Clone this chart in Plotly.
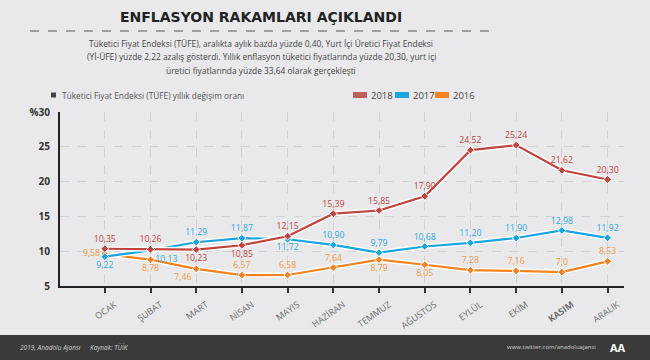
import plotly.graph_objects as go

months = ["OCAK", "ŞUBAT", "MART", "NİSAN", "MAYIS", "HAZİRAN", "TEMMUZ", "AĞUSTOS", "EYLÜL", "EKİM", "KASIM", "ARALIK"]
tick_labels = ["OCAK", "ŞUBAT", "MART", "NİSAN", "MAYIS", "HAZİRAN", "TEMMUZ", "AĞUSTOS", "EYLÜL", "EKİM", "<b>KASIM</b>", "ARALIK"]
v2018 = [10.35, 10.26, 10.23, 10.85, 12.15, 15.39, 15.85, 17.90, 24.52, 25.24, 21.62, 20.30]
v2017 = [9.22, 10.13, 11.29, 11.87, 11.72, 10.90, 9.79, 10.68, 11.20, 11.90, 12.98, 11.92]
v2016 = [9.58, 8.78, 7.46, 6.57, 6.58, 7.64, 8.79, 8.05, 7.28, 7.16, 7.0, 8.53]
t2018 = ["10,35", "10,26", "10,23", "10,85", "12,15", "15,39", "15,85", "17,90", "24,52", "25,24", "21,62", "20,30"]
t2017 = ["9,22", "10,13", "11,29", "11,87", "11,72", "10,90", "9,79", "10,68", "11,20", "11,90", "12,98", "11,92"]
t2016 = ["9,58", "8,78", "7,46", "6,57", "6,58", "7,64", "8,79", "8,05", "7,28", "7,16", "7,0", "8,53"]
y_ticks = [5, 10, 15, 20, 25, 30]
y_tick_text = ["<b>5</b>", "<b>10</b>", "<b>15</b>", "<b>20</b>", "<b>25</b>", "<b>%30</b>"]

pos2018 = ["top center"] * 12
pos2018[2] = "bottom center"; pos2018[3] = "bottom center"
pos2017 = ["top center"] * 12
pos2017[0] = "bottom center"; pos2017[1] = "bottom right"; pos2017[4] = "bottom center"
pos2016 = ["top center"] * 12
pos2016[0] = "middle left"; pos2016[1] = "bottom center"; pos2016[2] = "bottom left"
pos2016[6] = "bottom center"; pos2016[7] = "bottom center"

x = list(range(12))
L, R, T, B = 60, 26, 112, 74
W, H = 650, 360
pw, ph = W - L - R, H - T - B

def px(p):
    return (p - L) / pw

def py(p):
    return (H - B - p) / ph

fig = go.Figure()
FONT = "Open Sans"
series = [
    (v2016, t2016, pos2016, "#f5821f", "#f39a45", "2016"),
    (v2017, t2017, pos2017, "#17a4e2", "#29a9e3", "2017"),
    (v2018, t2018, pos2018, "#c0433d", "#c0433d", "2018"),
]
for vals, txt, pos, lc, tc, name in series:
    fig.add_trace(go.Scatter(x=x, y=vals, mode="lines", line=dict(color="white", width=5),
                             hoverinfo="skip", showlegend=False))
    fig.add_trace(go.Scatter(x=x, y=vals, mode="lines+markers+text", name=name,
                             line=dict(color=lc, width=2.2),
                             marker=dict(symbol="diamond", size=6, color=lc, line=dict(color="white", width=1)),
                             text=txt, textposition=pos,
                             textfont=dict(family=FONT, size=8.7, color=tc),
                             showlegend=False, cliponaxis=False))

shapes = []
annotations = []
# footer
shapes.append(dict(type="rect", xref="paper", yref="paper", x0=px(0), x1=px(650), y0=py(360), y1=py(335),
                   fillcolor="#3a3a3a", line=dict(width=0), layer="below"))
annotations += [
    dict(text="<i>2019, Anadolu Ajansı</i>", x=px(18), y=py(347), xanchor="left", yanchor="middle",
         font=dict(family=FONT, size=6.5, color="#cfcfcf")),
    dict(text="<i>Kaynak: TÜİK</i>", x=px(88), y=py(347), xanchor="left", yanchor="middle",
         font=dict(family=FONT, size=6.5, color="#cfcfcf")),
    dict(text="www.twitter.com/anadoluajansi", x=px(598), y=py(347), xanchor="right", yanchor="middle",
         font=dict(family=FONT, size=6, color="#cfcfcf")),
    dict(text="<b>AA</b>", x=px(618), y=py(347), xanchor="center", yanchor="middle",
         font=dict(family=FONT, size=11, color="white")),
]
# title
annotations.append(dict(text="<b>ENFLASYON RAKAMLARI AÇIKLANDI</b>", x=px(261), y=py(17), xanchor="center",
                        yanchor="middle", font=dict(family="DejaVu Sans", size=14, color="#222222")))
shapes.append(dict(type="line", xref="paper", yref="paper", x0=px(30), x1=px(493), y0=py(31), y1=py(31),
                   line=dict(color="#555555", width=1, dash="dash")))
sub = ["Tüketici Fiyat Endeksi (TÜFE), aralıkta aylık bazda yüzde 0,40, Yurt İçi Üretici Fiyat Endeksi",
       "(Yİ-ÜFE) yüzde 2,22 azalış gösterdi. Yıllık enflasyon tüketici fiyatlarında yüzde 20,30, yurt içi",
       "üretici fiyatlarında yüzde 33,64 olarak gerçekleşti"]
for i, s in enumerate(sub):
    annotations.append(dict(text=s, x=px(261), y=py(43 + 13.5 * i), xanchor="center", yanchor="middle",
                            font=dict(family=FONT, size=8.4, color="#444444")))
# left legend text
shapes.append(dict(type="rect", xref="paper", yref="paper", x0=px(51), x1=px(56), y0=py(97.5), y1=py(92.5),
                   fillcolor="#444444", line=dict(width=0)))
annotations.append(dict(text="Tüketici Fiyat Endeksi (TÜFE) yıllık değişim oranı", x=px(60), y=py(95),
                        xanchor="left", yanchor="middle", font=dict(family=FONT, size=8.3, color="#555555")))
for x0, col, lab in [(353, "#c0605a", "2018"), (395, "#1ea5e0", "2017"), (435, "#f5821f", "2016")]:
    shapes.append(dict(type="rect", xref="paper", yref="paper", x0=px(x0), x1=px(x0 + 14), y0=py(98), y1=py(92),
                       fillcolor=col, line=dict(width=0)))
    annotations.append(dict(text=lab, x=px(x0 + 16), y=py(95), xanchor="left", yanchor="middle",
                            font=dict(family=FONT, size=9.5, color="#444444")))
for a in annotations:
    a.update(xref="paper", yref="paper", showarrow=False)

fig.update_layout(
    width=W, height=H,
    margin=dict(l=L, r=R, t=T, b=B),
    paper_bgcolor="#e9e9eb", plot_bgcolor="#e9e9eb",
    shapes=shapes, annotations=annotations,
    showlegend=False,
    xaxis=dict(range=[-0.98, 11.36], tickvals=x, ticktext=tick_labels, tickangle=-35,
               tickfont=dict(family=FONT, size=9, color="#6e6e6e"),
               ticklabelshift=10, ticklabelstandoff=3,
               showgrid=True, gridcolor="#d2d2d5", griddash="dash", gridwidth=1,
               showline=True, linecolor="#222222", linewidth=2,
               ticks="outside", ticklen=5, tickcolor="#333333", tickwidth=1.5, zeroline=False, fixedrange=True),
    yaxis=dict(range=[5, 30], tickvals=y_ticks, ticktext=y_tick_text,
               tickfont=dict(family=FONT, size=10, color="#333333"), ticklabelstandoff=6,
               showgrid=True, gridcolor="#d2d2d5", griddash="dash", gridwidth=1,
               showline=True, linecolor="#222222", linewidth=2, ticks="", zeroline=False, fixedrange=True),
)
fig.write_html("out.html", config={"displayModeBar": False},
               post_script="document.body.style.margin='0';document.body.style.padding='0';")
